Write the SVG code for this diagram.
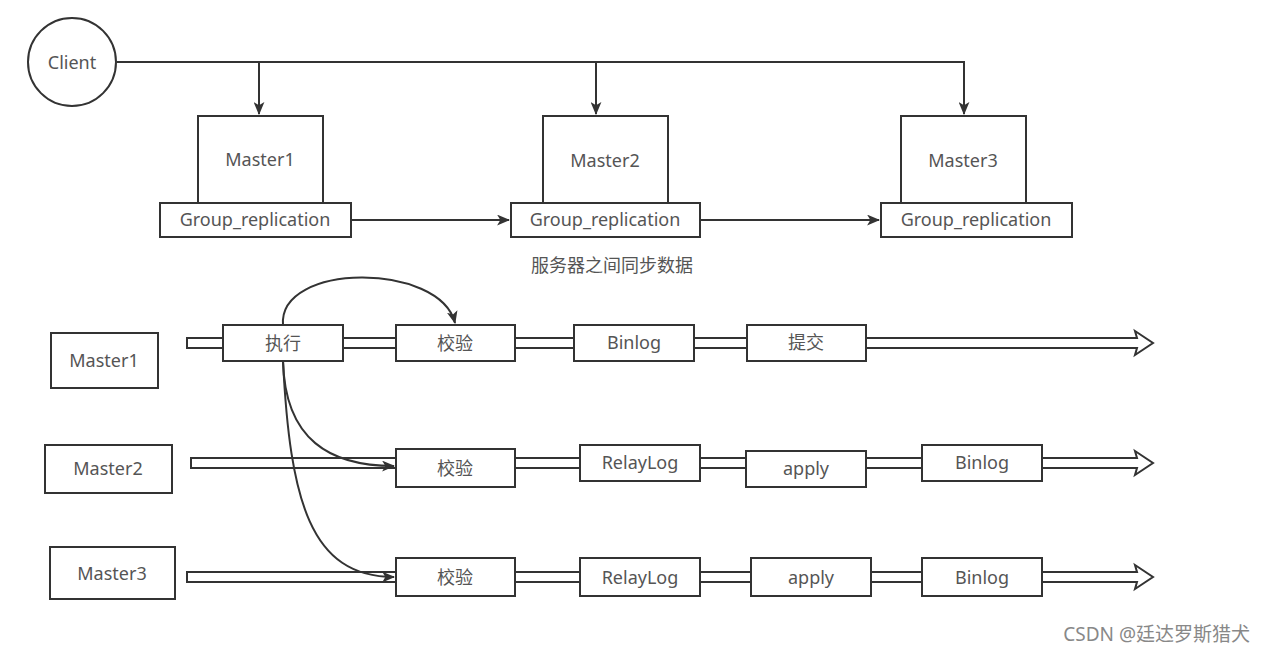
<svg xmlns="http://www.w3.org/2000/svg" width="1265" height="653" viewBox="0 0 1265 653">
<defs>
<marker id="ah" viewBox="0 0 12 10" refX="11" refY="5" markerWidth="13" markerHeight="11" markerUnits="userSpaceOnUse" orient="auto">
<path d="M0,0 L12,5 L0,10 L3,5 Z" fill="#333"/>
</marker>
</defs>
<style>
.box{fill:#fff;stroke:#333;stroke-width:2}
.pipe{fill:#fff;stroke:#333;stroke-width:2;stroke-linejoin:miter}
.ln{fill:none;stroke:#333;stroke-width:2}
.t{font-family:"Noto Sans","Noto Sans CJK SC",sans-serif;font-size:18px;fill:#555;text-anchor:middle;dominant-baseline:central}
.cap{font-family:"Noto Sans CJK SC","Noto Sans",sans-serif;font-size:18px;fill:#555;text-anchor:middle;dominant-baseline:central}
.wm{font-family:"Noto Sans","Noto Sans CJK SC",sans-serif;font-size:19px;fill:#888;text-anchor:end;dominant-baseline:central}
</style>
<rect width="1265" height="653" fill="#fff"/>

<g id="connectors">
<path class="ln" d="M117,62 H965"/>
<path class="ln" d="M259,62 V114" marker-end="url(#ah)"/>
<path class="ln" d="M596,62 V114" marker-end="url(#ah)"/>
<path class="ln" d="M964,62 V114" marker-end="url(#ah)"/>
<path class="ln" d="M351,220 H509" marker-end="url(#ah)"/>
<path class="ln" d="M700,220 H879" marker-end="url(#ah)"/>
</g>

<g id="client"><circle cx="72" cy="62" r="44" class="box"/><text class="t" x="72" y="62">Client</text></g>

<g id="master1-top"><rect class="box" x="198" y="116" width="125" height="88"/><text class="t" x="260" y="159">Master1</text></g>
<g id="gr1"><rect class="box" x="160" y="203" width="191" height="34"/><text class="t" x="255" y="219">Group_replication</text></g>
<g id="master2-top"><rect class="box" x="543" y="116" width="125" height="88"/><text class="t" x="605" y="160">Master2</text></g>
<g id="gr2"><rect class="box" x="511" y="203" width="189" height="34"/><text class="t" x="605" y="219">Group_replication</text></g>
<g id="master3-top"><rect class="box" x="901" y="116" width="125" height="88"/><text class="t" x="963" y="160">Master3</text></g>
<g id="gr3"><rect class="box" x="881" y="203" width="191" height="34"/><text class="t" x="976" y="219">Group_replication</text></g>
<g id="caption"><text class="cap" x="612" y="264">服务器之间同步数据</text></g>

<g id="pipes">
<polygon class="pipe" points="187,338 1137,338 1135,331 1153,343 1135,355 1137,348 187,348"/>
<polygon class="pipe" points="191,458 1137,458 1135,451 1153,463 1135,475 1137,468 191,468"/>
<polygon class="pipe" points="187,572 1137,572 1135,565 1153,577 1135,589 1137,582 187,582"/>
</g>

<g id="m1"><rect class="box" x="51" y="333" width="107" height="55"/><text class="t" x="104" y="360">Master1</text></g>
<g id="m2"><rect class="box" x="45" y="445" width="127" height="48"/><text class="t" x="108" y="468">Master2</text></g>
<g id="m3"><rect class="box" x="50" y="547" width="125" height="52"/><text class="t" x="112" y="573">Master3</text></g>

<g id="r1-exec"><rect class="box" x="223" y="325" width="120" height="36"/><text class="t" x="283" y="343">执行</text></g>
<g id="r1-check"><rect class="box" x="396" y="325" width="119" height="36"/><text class="t" x="455" y="343">校验</text></g>
<g id="r1-binlog"><rect class="box" x="574" y="325" width="120" height="36"/><text class="t" x="634" y="342">Binlog</text></g>
<g id="r1-commit"><rect class="box" x="747" y="325" width="119" height="36"/><text class="t" x="806" y="342">提交</text></g>

<g id="r2-check"><rect class="box" x="396" y="449" width="119" height="38"/><text class="t" x="455" y="468">校验</text></g>
<g id="r2-relay"><rect class="box" x="580" y="445" width="120" height="36"/><text class="t" x="640" y="462">RelayLog</text></g>
<g id="r2-apply"><rect class="box" x="746" y="451" width="120" height="36"/><text class="t" x="806" y="468">apply</text></g>
<g id="r2-binlog"><rect class="box" x="922" y="445" width="120" height="36"/><text class="t" x="982" y="462">Binlog</text></g>

<g id="r3-check"><rect class="box" x="396" y="558" width="119" height="38"/><text class="t" x="455" y="577">校验</text></g>
<g id="r3-relay"><rect class="box" x="580" y="558" width="120" height="38"/><text class="t" x="640" y="577">RelayLog</text></g>
<g id="r3-apply"><rect class="box" x="751" y="558" width="120" height="38"/><text class="t" x="811" y="577">apply</text></g>
<g id="r3-binlog"><rect class="box" x="922" y="558" width="120" height="38"/><text class="t" x="982" y="577">Binlog</text></g>

<g id="curves">
<path class="ln" d="M283,325 C278,262 440,262 455,323" marker-end="url(#ah)"/>
<path class="ln" d="M283,361 C285,440 330,466 394,466" marker-end="url(#ah)"/>
<path class="ln" d="M283,361 C290,500 310,577 394,577" marker-end="url(#ah)"/>
</g>

<text class="wm" x="1250" y="634">CSDN @廷达罗斯猎犬</text>
</svg>
